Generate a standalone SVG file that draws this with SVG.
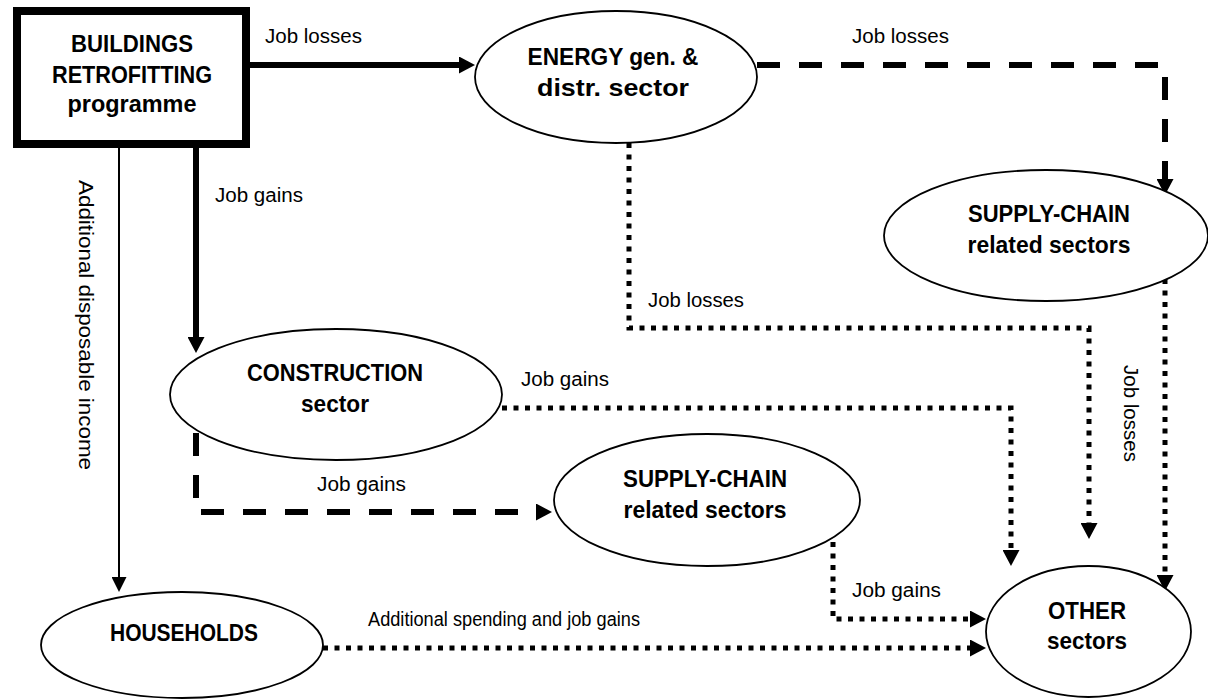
<svg xmlns="http://www.w3.org/2000/svg" width="1208" height="699" viewBox="0 0 1208 699">
<style>
.node{fill:#fff;stroke:#000;stroke-width:1.8}
.box{fill:#fff;stroke:#000;stroke-width:8}
.nt{font-family:"Liberation Sans",Arial,sans-serif;font-weight:bold;font-size:24px;fill:#000;text-anchor:middle}
.lb{font-family:"Liberation Sans",Arial,sans-serif;font-size:20px;fill:#000}
.c{fill:none;stroke:#000}
.thick{stroke-width:6}
.thin{stroke-width:2}
.dash{stroke-width:6;stroke-dasharray:23 19}
.dot{stroke-width:5;stroke-dasharray:5 6.5}
</style>
<defs>
<marker id="ah" markerUnits="userSpaceOnUse" viewBox="0 0 16 17" refX="0" refY="8.5" markerWidth="16" markerHeight="17" orient="auto">
<path d="M0,0 L16,8.5 L0,17 z" fill="#000"/>
</marker>
<marker id="ahs" markerUnits="userSpaceOnUse" viewBox="0 0 15 15" refX="0" refY="7.5" markerWidth="15" markerHeight="15" orient="auto">
<path d="M0,0 L15,7.5 L0,15 z" fill="#000"/>
</marker>
</defs>

<g id="connectors">
<path class="c thick" d="M250,65 H459" marker-end="url(#ah)"/>
<path class="c thick" d="M196,148 V337" marker-end="url(#ah)"/>
<path class="c thin" d="M119,148 V577" marker-end="url(#ahs)"/>
<path class="c dash" d="M757,65 H1165 V179" marker-end="url(#ah)"/>
<path class="c dot" d="M629,143 V328 H1089 V523" marker-end="url(#ah)"/>
<path class="c dot" d="M1165,279 V575" marker-end="url(#ah)"/>
<path class="c dot" d="M502,408 H1011 V550" marker-end="url(#ah)"/>
<path class="c dash" d="M196,433 V512 H536" marker-end="url(#ah)"/>
<path class="c dot" d="M833,542 V619 H970" marker-end="url(#ah)"/>
<path class="c dot" d="M323,648 H970" marker-end="url(#ah)"/>
</g>

<g id="labels">
<text class="lb" x="265" y="43" textLength="97" lengthAdjust="spacingAndGlyphs">Job losses</text>
<text class="lb" x="852" y="43" textLength="97" lengthAdjust="spacingAndGlyphs">Job losses</text>
<text class="lb" x="215" y="202" textLength="88" lengthAdjust="spacingAndGlyphs">Job gains</text>
<text class="lb" x="648" y="307" textLength="96" lengthAdjust="spacingAndGlyphs">Job losses</text>
<text class="lb" x="521" y="386" textLength="88" lengthAdjust="spacingAndGlyphs">Job gains</text>
<text class="lb" x="317" y="491" textLength="89" lengthAdjust="spacingAndGlyphs">Job gains</text>
<text class="lb" x="852" y="597" textLength="89" lengthAdjust="spacingAndGlyphs">Job gains</text>
<text class="lb" x="368" y="626" textLength="272" lengthAdjust="spacingAndGlyphs">Additional spending and job gains</text>
<text class="lb" transform="translate(79,180) rotate(90)" textLength="290" lengthAdjust="spacingAndGlyphs">Additional disposable income</text>
<text class="lb" transform="translate(1124,365) rotate(90)" textLength="97" lengthAdjust="spacingAndGlyphs">Job losses</text>
</g>

<g id="buildings">
<rect class="box" x="17" y="11" width="229" height="133"/>
<text class="nt" x="132" y="52" textLength="122" lengthAdjust="spacingAndGlyphs">BUILDINGS</text>
<text class="nt" x="132" y="83" textLength="160" lengthAdjust="spacingAndGlyphs">RETROFITTING</text>
<text class="nt" x="132" y="112" textLength="129" lengthAdjust="spacingAndGlyphs">programme</text>
</g>

<g id="energy">
<ellipse class="node" cx="616" cy="77" rx="141" ry="66"/>
<text class="nt" x="613" y="65" textLength="171" lengthAdjust="spacingAndGlyphs">ENERGY gen. &amp;</text>
<text class="nt" x="613" y="96" textLength="152" lengthAdjust="spacingAndGlyphs">distr. sector</text>
</g>

<g id="supply-top">
<ellipse class="node" cx="1046" cy="235.5" rx="162" ry="65.5"/>
<text class="nt" x="1049" y="222" textLength="162" lengthAdjust="spacingAndGlyphs">SUPPLY-CHAIN</text>
<text class="nt" x="1049" y="253" textLength="163" lengthAdjust="spacingAndGlyphs">related sectors</text>
</g>

<g id="construction">
<ellipse class="node" cx="336" cy="394.5" rx="166" ry="65.5"/>
<text class="nt" x="335" y="381" textLength="176" lengthAdjust="spacingAndGlyphs">CONSTRUCTION</text>
<text class="nt" x="335" y="412" textLength="68" lengthAdjust="spacingAndGlyphs">sector</text>
</g>

<g id="supply-mid">
<ellipse class="node" cx="707" cy="500" rx="153" ry="66"/>
<text class="nt" x="705" y="487" textLength="164" lengthAdjust="spacingAndGlyphs">SUPPLY-CHAIN</text>
<text class="nt" x="705" y="518" textLength="163" lengthAdjust="spacingAndGlyphs">related sectors</text>
</g>

<g id="households">
<ellipse class="node" cx="182" cy="645" rx="141" ry="53"/>
<text class="nt" x="184" y="641" textLength="148" lengthAdjust="spacingAndGlyphs">HOUSEHOLDS</text>
</g>

<g id="other">
<ellipse class="node" cx="1088.5" cy="631.5" rx="102.5" ry="65.5"/>
<text class="nt" x="1087" y="619" textLength="78" lengthAdjust="spacingAndGlyphs">OTHER</text>
<text class="nt" x="1087" y="649" textLength="80" lengthAdjust="spacingAndGlyphs">sectors</text>
</g>
</svg>
